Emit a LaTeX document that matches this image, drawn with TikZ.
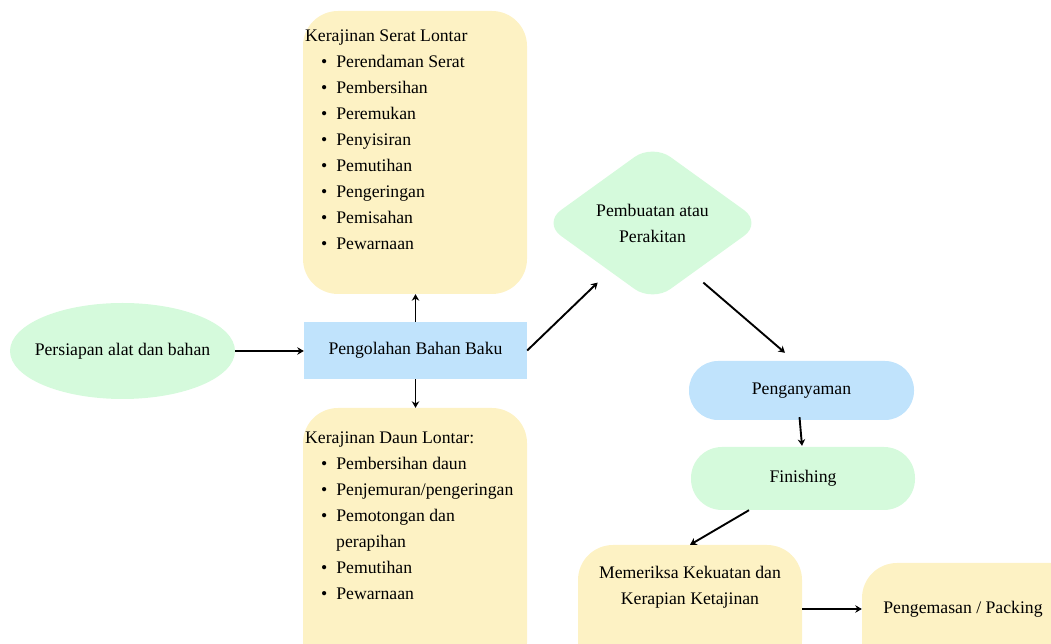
\documentclass[tikz,border=0pt]{standalone}
\usepackage{fontspec}
\setmainfont{Liberation Serif}
\usetikzlibrary{shapes.geometric,arrows.meta}
\definecolor{kuning}{HTML}{FDF2C4}
\definecolor{hijau}{HTML}{D5FADC}
\definecolor{biru}{HTML}{C0E3FC}
\newcommand{\butir}{\hspace*{16pt}\textbullet\hspace{9pt}}

\begin{document}
\begin{tikzpicture}[x=1pt, y=1pt, font=\fontsize{17.7}{26}\selectfont, line join=round, >={Stealth[length=6.5pt,width=7.5pt]},
	kotak/.style={fill=kuning, draw=none, rounded corners=35pt, inner sep=0pt},
	isi/.style={anchor=north west, align=left, inner sep=0pt},
	panah/.style={->, line width=1.9pt}]
	\useasboundingbox (0,0) rectangle (1051,644);
	\clip (0,0) rectangle (1051,644);
	
	% Persiapan dan pengolahan
	\node[ellipse, fill=hijau, minimum width=225pt, minimum height=96pt, inner sep=0pt] (persiapan) at (122.5,293) {};
	\node (persiapanIsi) at (persiapan) {Persiapan alat dan bahan};
	\node[fill=biru, minimum width=223pt, minimum height=57pt] (olah) at (415.5,293.5) {Pengolahan Bahan Baku};
	
	% Kotak daftar atas (serat) dan bawah (daun)
	\node[kotak, minimum width=224pt, minimum height=283pt] (serat) at (415,491.5) {};
	\node[isi] (seratIsi) at (305,614) {Kerajinan Serat Lontar\\ \butir Perendaman Serat\\ \butir Pembersihan\\ \butir Peremukan\\ \butir Penyisiran\\ \butir Pemutihan\\ \butir Pengeringan\\ \butir Pemisahan\\ \butir Pewarnaan};
	\node[kotak, minimum width=224pt, minimum height=270pt] (daun) at (415,101) {};
	\node[isi] (daunIsi) at (305,212) {Kerajinan Daun Lontar:\\ \butir Pembersihan daun\\ \butir Penjemuran/pengeringan\\ \butir Pemotongan dan\\ \hspace*{31pt}perapihan\\ \butir Pemutihan\\ \butir Pewarnaan};
	
	% Alur sebelah kanan
	\node[diamond, aspect=1.4, fill=hijau, rounded corners=22pt, minimum width=219pt, minimum height=158pt, inner sep=0pt, align=center] (rakit) at (652.5,421) {Pembuatan atau\\Perakitan};
	\node[fill=biru, rounded corners=29pt, minimum width=225pt, minimum height=59pt] (anyam) at (801.5,253.5) {Penganyaman};
	\node[fill=hijau, rounded corners=31pt, minimum width=224pt, minimum height=63pt] (finish) at (803,165.5) {Finishing};
	\node[kotak, minimum width=224pt, minimum height=130pt] (periksa) at (690,34) {};
	\node[align=center, inner sep=0pt] (periksaIsi) at (690,57) {Memeriksa Kekuatan dan\\Kerapian Ketajinan};
	\node[kotak, minimum width=230pt, minimum height=130pt] (kemas) at (977,16) {};
	\node[inner sep=0pt] (kemasIsi) at (963,35) {Pengemasan / Packing};
	
	% Panah
	\draw[panah] (persiapan.east) -- (olah.west |- persiapan.east);
	\draw[panah] (olah.north) -- (olah.north |- serat.south);
	\draw[panah] (olah.south) -- (olah.south |- daun.north);
	\draw[panah] (olah.east) -- ([shift={(0,-20)}]rakit.south west);
	\draw[panah] ([shift={(-4,-20)}]rakit.south east) -- ([shift={(-16.5,8)}]anyam.north);
	\draw[panah] ([shift={(-2,3)}]anyam.south) -- ([shift={(-1,1)}]finish.north);
	\draw[panah] ([shift={(-54,0)}]finish.south) -- (periksa.north);
	\draw[panah] (periksa.east |- kemasIsi) -- (kemas.west |- kemasIsi);
\end{tikzpicture}
\end{document}
